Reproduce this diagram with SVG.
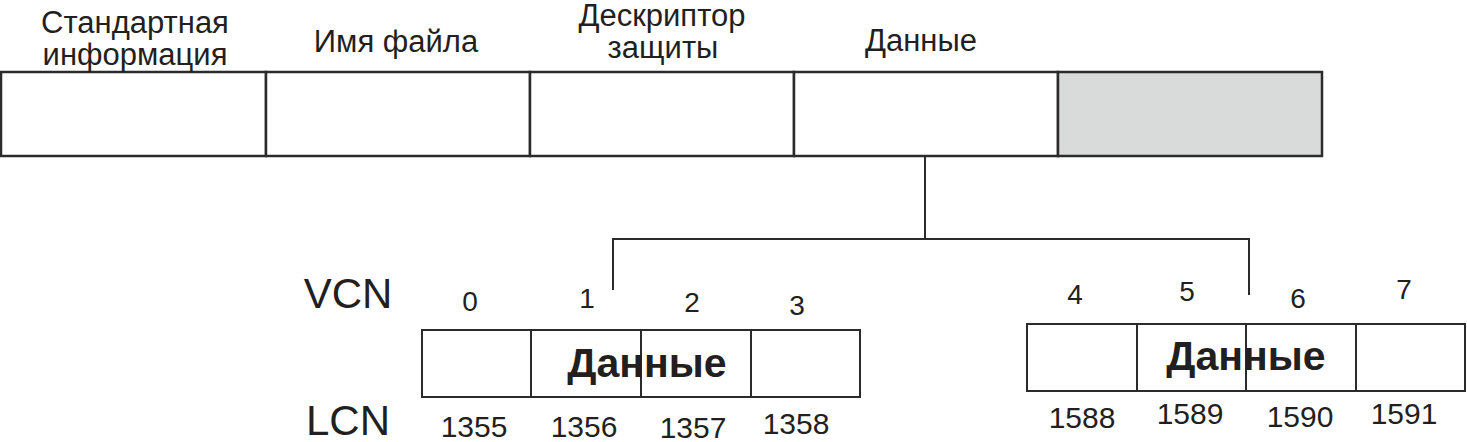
<svg xmlns="http://www.w3.org/2000/svg" width="1467" height="442" viewBox="0 0 1467 442">
<style>
  .t { font-family: "Liberation Sans", Arial, sans-serif; fill: #231f20; text-anchor: middle; }
  .hdr { font-size: 31px; }
  .lab { font-size: 42px; }
  .vcn { font-size: 28px; }
  .lcn { font-size: 30px; }
  .bold { font-size: 41px; font-weight: bold; }
  .box { fill: #ffffff; stroke: #2b2b2b; stroke-width: 2.5; }
  .gray { fill: #d9dbda; stroke: #2b2b2b; stroke-width: 2.5; }
  .cell { fill: #ffffff; stroke: #2b2b2b; stroke-width: 2; }
  .conn { fill: none; stroke: #2b2b2b; stroke-width: 2; }
</style>
<rect width="1467" height="442" fill="#ffffff"/>

<g id="node-std">
  <rect class="box" x="1" y="72" width="265" height="84"/>
  <text class="t hdr" x="135" y="33">Стандартная</text>
  <text class="t hdr" x="135" y="65">информация</text>
</g>
<g id="node-name">
  <rect class="box" x="266" y="72" width="264" height="84"/>
  <text class="t hdr" x="396" y="52">Имя файла</text>
</g>
<g id="node-sec">
  <rect class="box" x="530" y="72" width="264" height="84"/>
  <text class="t hdr" x="662" y="26">Дескриптор</text>
  <text class="t hdr" x="663" y="58">защиты</text>
</g>
<g id="node-data">
  <rect class="box" x="794" y="72" width="264" height="84"/>
  <text class="t hdr" x="921" y="51">Данные</text>
</g>
<g id="node-free">
  <rect class="gray" x="1058" y="72" width="264" height="84"/>
</g>

<g id="connectors">
  <path class="conn" d="M925,156 V239"/>
  <path class="conn" d="M613,290 V239 H1249 V295"/>
</g>

<g id="labels">
  <text class="t lab" x="348" y="308">VCN</text>
  <text class="t lab" x="348" y="435">LCN</text>
</g>

<g id="run-1">
  <rect class="cell" x="422" y="330" width="109" height="67"/>
  <rect class="cell" x="531" y="330" width="110" height="67"/>
  <rect class="cell" x="641" y="330" width="110" height="67"/>
  <rect class="cell" x="751" y="330" width="109" height="67"/>
  <text class="t bold" x="647" y="377">Данные</text>
  <text class="t vcn" x="470" y="311">0</text>
  <text class="t vcn" x="587" y="308">1</text>
  <text class="t vcn" x="692" y="312">2</text>
  <text class="t vcn" x="797" y="315">3</text>
  <text class="t lcn" x="474" y="437">1355</text>
  <text class="t lcn" x="584" y="437">1356</text>
  <text class="t lcn" x="693" y="438">1357</text>
  <text class="t lcn" x="796" y="434">1358</text>
</g>

<g id="run-2">
  <rect class="cell" x="1027" y="324" width="110" height="67"/>
  <rect class="cell" x="1137" y="324" width="109" height="67"/>
  <rect class="cell" x="1246" y="324" width="110" height="67"/>
  <rect class="cell" x="1356" y="324" width="109" height="67"/>
  <text class="t bold" x="1246" y="370">Данные</text>
  <text class="t vcn" x="1075" y="304">4</text>
  <text class="t vcn" x="1187" y="301">5</text>
  <text class="t vcn" x="1298" y="308">6</text>
  <text class="t vcn" x="1404" y="299">7</text>
  <text class="t lcn" x="1082" y="428">1588</text>
  <text class="t lcn" x="1190" y="424">1589</text>
  <text class="t lcn" x="1300" y="427">1590</text>
  <text class="t lcn" x="1404" y="424">1591</text>
</g>
</svg>
